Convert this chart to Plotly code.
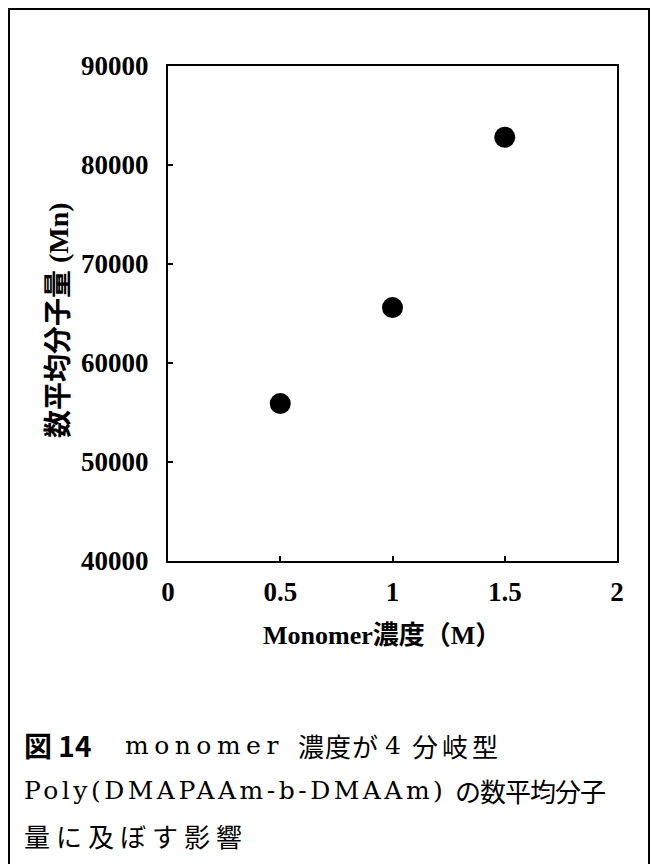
import plotly.graph_objects as go

# Data
monomer_conc = [0.5, 1.0, 1.5]
mn_values = [55900, 65600, 82800]

x_tickvals = [0, 0.5, 1, 1.5, 2]
x_ticktext = ["0", "0.5", "1", "1.5", "2"]
y_tickvals = [40000, 50000, 60000, 70000, 80000, 90000]
y_ticktext = ["40000", "50000", "60000", "70000", "80000", "90000"]

x_title = "Monomer濃度（M）"
y_title = "数平均分子量 (Mn)"

# caption pieces: (text, x_px, line_y_px, style)
LAT = "font-family:'DejaVu Serif';font-size:25px"
CJK = "font-family:'Noto Sans CJK JP';font-size:26px"
caption_pieces = [
    ("<b>図 14</b>", 22, 745, "font-family:'Noto Sans CJK JP';font-size:28px"),
    ("monomer", 123, 745, LAT + ";letter-spacing:5.5px"),
    ("濃度が", 296, 745, CJK + ";letter-spacing:1px"),
    ("4", 383, 745, LAT),
    ("分岐型", 410, 745, CJK + ";letter-spacing:4px"),
    ("Poly(DMAPAAm-b-DMAAm)", 22, 790, LAT + ";letter-spacing:3.5px"),
    ("の数平均分子", 453, 790, CJK + ";letter-spacing:-1px"),
    ("量に及ぼす影響", 22, 835, CJK + ";letter-spacing:6px"),
]

W, H = 651, 864
px_l, px_r, px_t, px_b = 168, 617, 66, 561

tick_font = dict(family="Liberation Serif, Noto Sans CJK JP", size=27, color="black", weight="bold")

fig = go.Figure()
fig.add_trace(go.Scatter(
    x=monomer_conc, y=mn_values, mode="markers",
    marker=dict(color="black", size=21, line=dict(width=0)),
    showlegend=False, hoverinfo="skip",
))

fig.update_layout(
    template="none",
    width=W, height=H, autosize=False,
    margin=dict(l=0, r=0, t=0, b=0, pad=0),
    paper_bgcolor="white", plot_bgcolor="white",
    showlegend=False,
    xaxis=dict(
        domain=[px_l / W, px_r / W], range=[0, 2], automargin=False,
        tickvals=x_tickvals, ticktext=x_ticktext,
        showgrid=False, zeroline=False,
        showline=True, linecolor="black", linewidth=2, mirror=True,
        ticks="inside", ticklen=5, tickwidth=2, tickcolor="black",
        tickfont=tick_font, ticklabelstandoff=6,
    ),
    yaxis=dict(
        domain=[1 - px_b / H, 1 - px_t / H], range=[40000, 90000], automargin=False,
        tickvals=y_tickvals, ticktext=y_ticktext,
        showgrid=False, zeroline=False,
        showline=True, linecolor="black", linewidth=2, mirror=True,
        ticks="inside", ticklen=5, tickwidth=2, tickcolor="black",
        tickfont=tick_font, ticklabelstandoff=12,
    ),
)

# Axis titles
fig.add_annotation(
    x=382 / W, y=1 - 635 / H, xref="paper", yref="paper",
    text=x_title, showarrow=False,
    font=dict(family="Liberation Serif, Noto Sans CJK JP", size=26, color="black", weight="bold"),
    xanchor="center", yanchor="middle",
)
fig.add_annotation(
    x=58 / W, y=1 - 320 / H, xref="paper", yref="paper",
    text=y_title, showarrow=False, textangle=-90,
    font=dict(family="Liberation Serif, Noto Sans CJK JP", size=28, color="black", weight="bold"),
    xanchor="center", yanchor="middle",
)

# Caption
for txt, xx, yy, sty in caption_pieces:
    fig.add_annotation(
        x=xx / W, y=1 - yy / H, xref="paper", yref="paper",
        text=f"<span style=\"{sty}\">{txt}</span>", showarrow=False,
        font=dict(family="Noto Sans CJK JP", size=26, color="black"),
        xanchor="left", yanchor="middle",
    )

# Outer frame
fig.add_shape(
    type="rect", xref="paper", yref="paper",
    x0=9 / W, x1=649 / W, y0=-0.05, y1=1 - 9 / H,
    line=dict(color="black", width=2), fillcolor="rgba(0,0,0,0)",
)

fig.write_html(
    "out.html",
    config={"displayModeBar": False, "staticPlot": True},
    post_script="document.body.style.margin='0';document.body.style.overflow='hidden';",
)
